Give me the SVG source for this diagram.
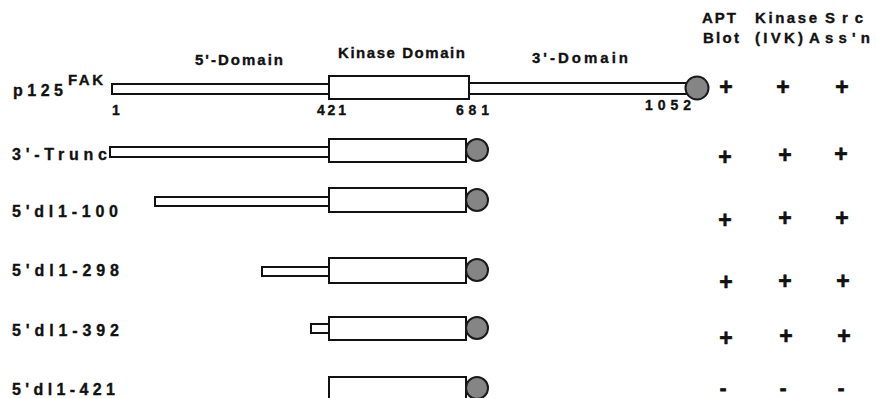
<svg xmlns="http://www.w3.org/2000/svg" width="876" height="398" viewBox="0 0 876 398">
<style>
text{font-family:"Liberation Sans",Arial,sans-serif;font-weight:bold;fill:#111;stroke:#111;stroke-width:0.35}
.lab{font-size:16px}
.hd{font-size:15px}
.num{font-size:14px}
.pm{font-size:23px;text-anchor:middle;stroke-width:0.6}
.mn{font-size:20px;text-anchor:middle;stroke-width:0.8}
.bar{fill:#fff;stroke:#111;stroke-width:2}
.dot{fill:#858585;stroke:#1a1a1a;stroke-width:2}
</style>
<rect width="876" height="398" fill="#fff"/>
<g id="headers">
<text class="hd" x="702" y="23" textLength="34" lengthAdjust="spacing">APT</text>
<text class="hd" x="703" y="43" textLength="36" lengthAdjust="spacing">Blot</text>
<text class="hd" x="755" y="23" textLength="62" lengthAdjust="spacing">Kinase</text>
<text class="hd" x="755" y="43" textLength="48" lengthAdjust="spacing">(IVK)</text>
<text class="hd" x="825" y="23" textLength="38" lengthAdjust="spacing">Src</text>
<text class="hd" x="809" y="43" textLength="61" lengthAdjust="spacing">Ass'n</text>
<text class="hd" x="195" y="65" textLength="88" lengthAdjust="spacing">5'-Domain</text>
<text class="hd" x="338" y="58" textLength="127" lengthAdjust="spacing">Kinase  Domain</text>
<text class="hd" x="532" y="63" textLength="96" lengthAdjust="spacing">3'-Domain</text>
</g>
<g id="row-p125">
<text class="lab" x="13" y="96" textLength="50" lengthAdjust="spacing">p125</text>
<text class="hd" x="68" y="85" textLength="35" lengthAdjust="spacing">FAK</text>
<rect class="bar" x="112" y="84" width="217" height="10"/>
<rect class="bar" x="469" y="83" width="220" height="11"/>
<rect class="bar" x="329" y="76" width="140" height="23"/>
<circle class="dot" cx="697" cy="88" r="11.5"/>
<text class="num" x="112" y="115">1</text>
<text class="num" x="317" y="115" textLength="29" lengthAdjust="spacing">421</text>
<text class="num" x="456" y="115" textLength="33" lengthAdjust="spacing">681</text>
<text class="num" x="645" y="110" textLength="46" lengthAdjust="spacing">1052</text>
<text class="pm" x="726" y="95">+</text>
<text class="pm" x="783" y="95">+</text>
<text class="pm" x="842" y="95">+</text>
</g>
<g id="row-3trunc">
<text class="lab" x="12" y="160" textLength="95" lengthAdjust="spacing">3'-Trunc</text>
<rect class="bar" x="110" y="147" width="219" height="10"/>
<rect class="bar" x="329" y="139" width="137" height="23"/>
<circle class="dot" cx="477" cy="150" r="11"/>
<text class="pm" x="725" y="165">+</text>
<text class="pm" x="785" y="163">+</text>
<text class="pm" x="841" y="162">+</text>
</g>
<g id="row-dl100">
<text class="lab" x="12" y="217" textLength="106" lengthAdjust="spacing">5'dl1-100</text>
<rect class="bar" x="155" y="197" width="174" height="9"/>
<rect class="bar" x="329" y="188" width="137" height="24"/>
<circle class="dot" cx="477" cy="200" r="11"/>
<text class="pm" x="725" y="228">+</text>
<text class="pm" x="785" y="226">+</text>
<text class="pm" x="842" y="226">+</text>
</g>
<g id="row-dl298">
<text class="lab" x="12" y="276" textLength="107" lengthAdjust="spacing">5'dl1-298</text>
<rect class="bar" x="262" y="267" width="67" height="9"/>
<rect class="bar" x="329" y="258" width="137" height="25"/>
<circle class="dot" cx="477" cy="270" r="11"/>
<text class="pm" x="726" y="290">+</text>
<text class="pm" x="785" y="289">+</text>
<text class="pm" x="843" y="289">+</text>
</g>
<g id="row-dl392">
<text class="lab" x="12" y="336" textLength="107" lengthAdjust="spacing">5'dl1-392</text>
<rect class="bar" x="311" y="324" width="18" height="9"/>
<rect class="bar" x="329" y="317" width="137" height="23"/>
<circle class="dot" cx="477" cy="328" r="11"/>
<text class="pm" x="726" y="346">+</text>
<text class="pm" x="786" y="344">+</text>
<text class="pm" x="844" y="344">+</text>
</g>
<g id="row-dl421">
<text class="lab" x="12" y="395" textLength="103" lengthAdjust="spacing">5'dl1-421</text>
<rect class="bar" x="329" y="377" width="137" height="24"/>
<circle class="dot" cx="477" cy="388" r="11"/>
<text class="mn" x="723" y="395">-</text>
<text class="mn" x="783" y="395">-</text>
<text class="mn" x="841" y="395">-</text>
</g>
<g id="connectors"></g>
</svg>
